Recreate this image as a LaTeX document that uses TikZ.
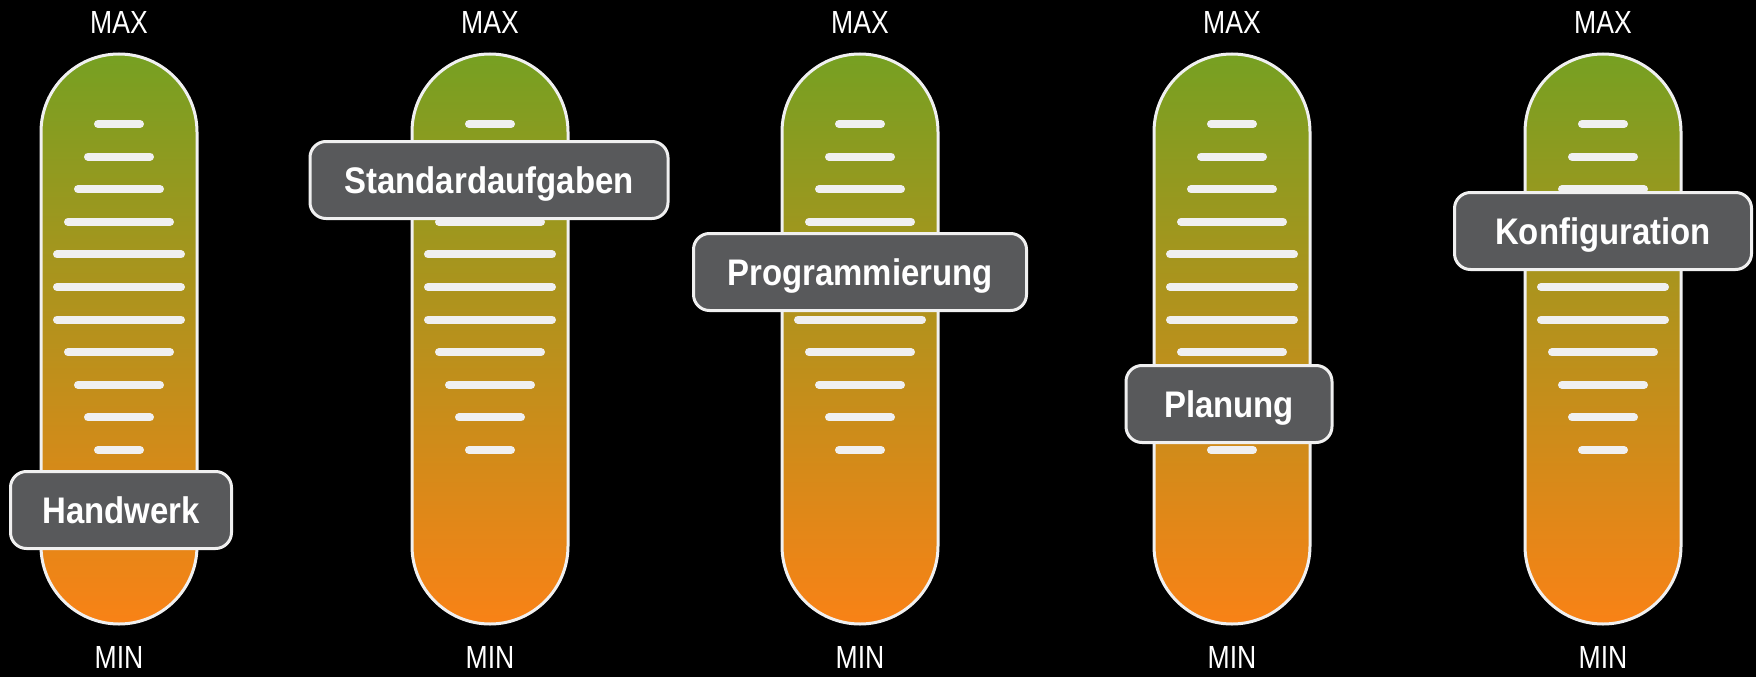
\documentclass[tikz,border=0pt]{standalone}
\usepackage{fontspec}
\setmainfont{Liberation Sans}
\newfontfamily\narrowfont[FakeStretch=0.83]{Liberation Sans}
\newfontfamily\tagfont[FakeStretch=0.89]{Liberation Sans}
\usetikzlibrary{positioning}

\definecolor{barTop}{RGB}{118,160,34}
\definecolor{barBottom}{RGB}{249,130,22}
\definecolor{tagGray}{RGB}{88,89,91}
\definecolor{tickWhite}{RGB}{240,240,240}

\begin{document}
\begin{tikzpicture}[x=1pt,y=-1pt]
\tikzset{
  bar/.style={draw=tickWhite, line width=3pt, rounded corners=78pt,
    top color=barTop, bottom color=barBottom,
    minimum width=156pt, minimum height=570pt, inner sep=0pt},
  tick/.style={tickWhite, line width=8pt, line cap=round},
  endlabel/.style={text=white, inner sep=0pt,
    font=\narrowfont\fontsize{32}{34}\selectfont},
  tag/.style={draw=tickWhite, line width=3pt, fill=tagGray,
    rounded corners=16pt, text=white, inner xsep=0pt,
    minimum height=77pt, text height=26pt, text depth=0pt,
    font=\tagfont\bfseries\fontsize{37}{40}\selectfont}
}
\fill[black] (0,0) rectangle (1756,677);
\useasboundingbox (0,0) rectangle (1756,677);

% the five sliders
\foreach \n/\x in {1/119,2/490,3/860,4/1232,5/1603} {
  \node[bar] (bar\n) at (\x,339) {};
  \node[endlabel] (max\n) at (\x,22) {MAX};
  \node[endlabel] (min\n) at (\x,657) {MIN};
  \foreach \i/\h in {0/21,1/31,2/41,3/51,4/62,5/62,6/62,7/51,8/41,9/31,10/21}
    \draw[tick] (\x-\h,124+32.6*\i) -- (\x+\h,124+32.6*\i);
}

% labels on top
\node[tag, minimum width=221pt] (handwerk) at (121,510) {Handwerk};
\node[tag, minimum width=358pt] (standard) at (489,180) {Standardaufgaben};
\node[tag, minimum width=333pt] (programm) at (860,272) {Programmierung};
\node[tag, minimum width=206pt] (planung) at (1229,404) {Planung};
\node[tag, minimum width=297pt] (konfig) at (1603,231) {Konfiguration};
\end{tikzpicture}
\end{document}
